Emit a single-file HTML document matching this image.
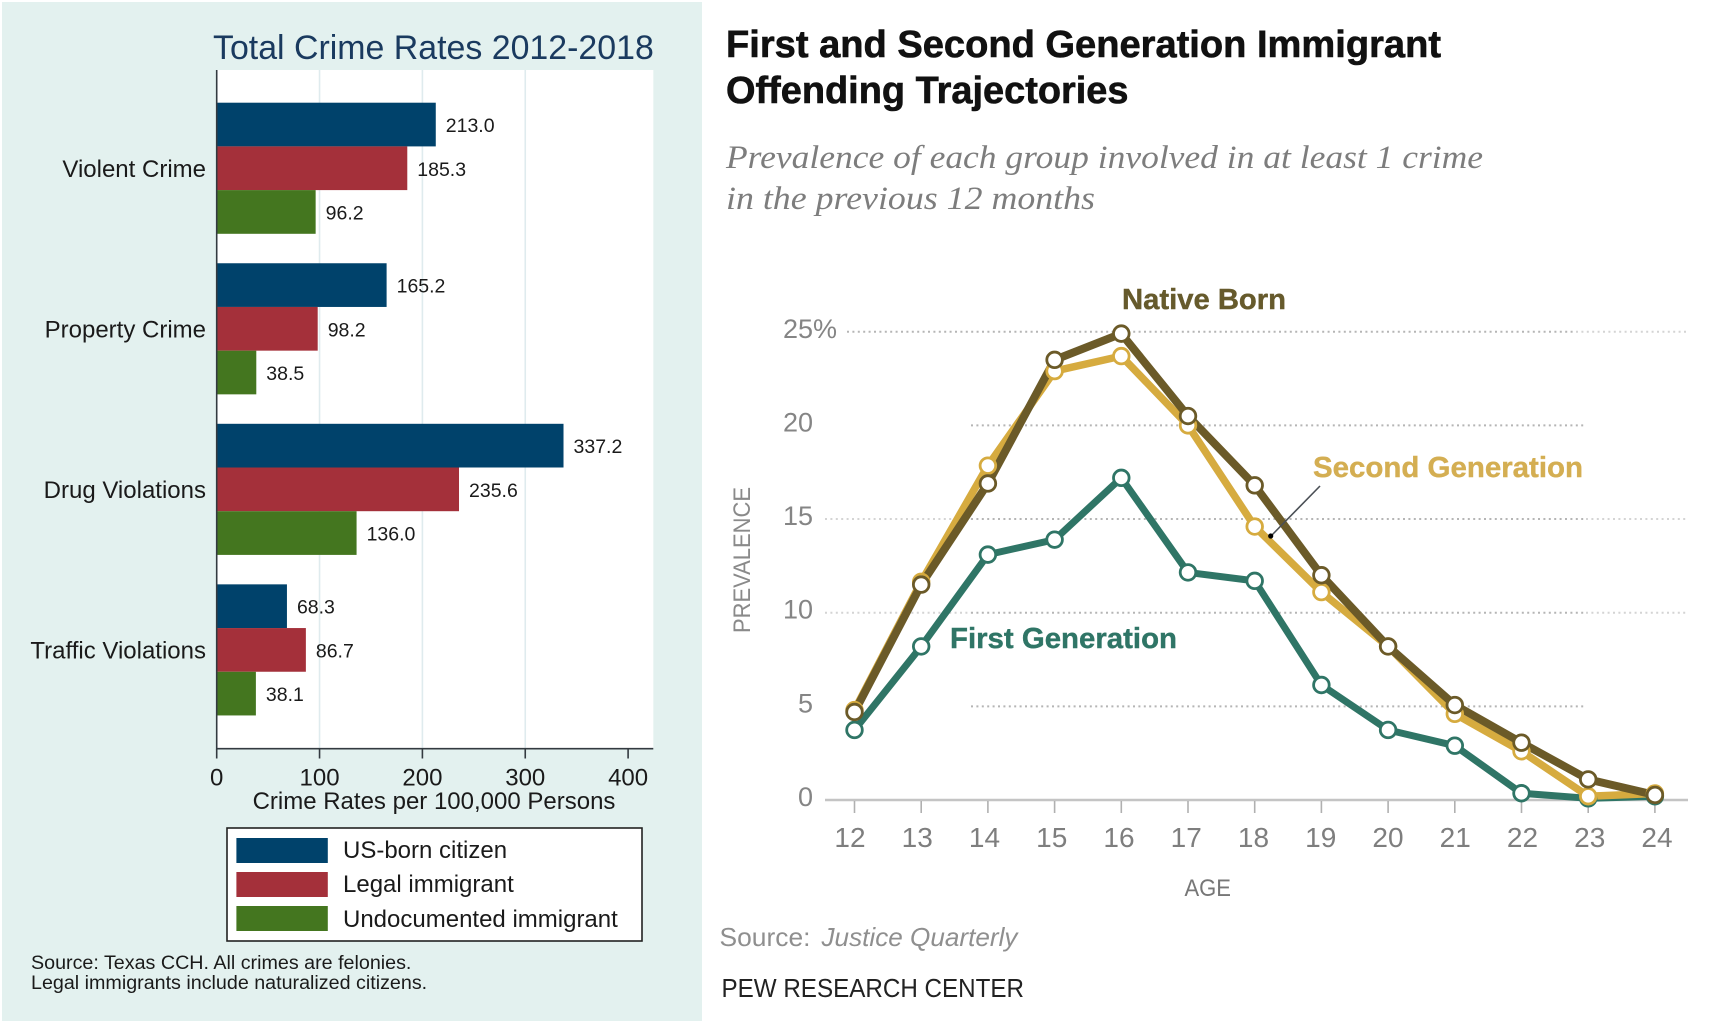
<!DOCTYPE html>
<html lang="en">
<head>
<meta charset="utf-8">
<title>Crime Rates and Offending Trajectories</title>
<style>
html,body{margin:0;padding:0;background:#fff;}
svg{display:block;font-family:"Liberation Sans",sans-serif;}
</style>
</head>
<body>
<svg id="root" xmlns="http://www.w3.org/2000/svg" width="1709" height="1024" viewBox="0 0 1709 1024">
  <rect x="0" y="0" width="1709" height="1024" fill="#ffffff"/>
  <rect x="2" y="2" width="700" height="1019" fill="#e3f1ef"/>
  <rect x="216.7" y="70" width="436.6" height="679" fill="#ffffff"/>
  <g id="leftGrid"></g>
  <g id="leftBars"></g>
  <g id="leftAxes"></g>

  <text x="213" y="59" font-size="33.9" fill="#1a3a5f">Total Crime Rates 2012-2018</text>
  <text x="434" y="809" font-size="24" fill="#1a1a1a" text-anchor="middle">Crime Rates per 100,000 Persons</text>

  <g>
    <rect x="227" y="828" width="415" height="113" fill="#ffffff" stroke="#222222" stroke-width="1.6"/>
    <rect x="236.4" y="838" width="91.4" height="25" fill="#00426b"/>
    <rect x="236.4" y="872" width="91.4" height="25" fill="#a4303a"/>
    <rect x="236.4" y="906" width="91.4" height="25" fill="#44761f"/>
    <text x="343" y="858" font-size="24" fill="#1a1a1a">US-born citizen</text>
    <text x="343" y="892" font-size="24" fill="#1a1a1a">Legal immigrant</text>
    <text x="343" y="927" font-size="24" fill="#1a1a1a">Undocumented immigrant</text>
  </g>
  <text x="31" y="969" font-size="19.7" fill="#1a1a1a">Source: Texas CCH. All crimes are felonies.</text>
  <text x="31" y="989" font-size="19.7" fill="#1a1a1a">Legal immigrants include naturalized citizens.</text>

  <text x="726" y="57" font-size="38" font-weight="bold" fill="#111111" stroke="#111111" stroke-width="0.6" textLength="715" lengthAdjust="spacingAndGlyphs">First and Second Generation Immigrant</text>
  <text x="726" y="103" font-size="38" font-weight="bold" fill="#111111" stroke="#111111" stroke-width="0.6" textLength="402.5" lengthAdjust="spacingAndGlyphs">Offending Trajectories</text>
  <text x="726" y="168" font-family="Liberation Serif, serif" font-style="italic" font-size="33" fill="#7d7d7d" textLength="757" lengthAdjust="spacingAndGlyphs">Prevalence of each group involved in at least 1 crime</text>
  <text x="726" y="209" font-family="Liberation Serif, serif" font-style="italic" font-size="33" fill="#7d7d7d" textLength="369" lengthAdjust="spacingAndGlyphs">in the previous 12 months</text>

  <g id="rightGrid"></g>
  <g id="rightAxes"></g>
  <g id="rightLines"></g>

  <text transform="translate(750,633) rotate(-90)" font-size="24" fill="#8a8a8a" textLength="146" lengthAdjust="spacingAndGlyphs">PREVALENCE</text>
  <text x="1184.5" y="896" font-size="24" fill="#777777" textLength="46.5" lengthAdjust="spacingAndGlyphs">AGE</text>

  <text x="1122" y="309" font-size="29" font-weight="bold" fill="#665a2c" stroke="#665a2c" stroke-width="0.4" textLength="164" lengthAdjust="spacingAndGlyphs">Native Born</text>
  <text x="1313" y="477" font-size="29" font-weight="bold" fill="#d4ae52" stroke="#d4ae52" stroke-width="0.4" textLength="270" lengthAdjust="spacingAndGlyphs">Second Generation</text>
  <text x="950" y="648" font-size="29" font-weight="bold" fill="#2f7566" stroke="#2f7566" stroke-width="0.4" textLength="227" lengthAdjust="spacingAndGlyphs">First Generation</text>
  <line x1="1320" y1="486" x2="1271" y2="536" stroke="#4a4f55" stroke-width="1.6"/>
  <circle cx="1270.7" cy="536" r="2.6" fill="#000000"/>

  <text x="719.5" y="946" font-size="26" fill="#8f8f8f" textLength="91" lengthAdjust="spacingAndGlyphs">Source:</text>
  <text x="821.5" y="946" font-size="26" font-style="italic" fill="#8f8f8f" textLength="196" lengthAdjust="spacingAndGlyphs">Justice Quarterly</text>
  <text x="721.5" y="997" font-size="26" fill="#222222" textLength="302.5" lengthAdjust="spacingAndGlyphs">PEW RESEARCH CENTER</text>
</svg>
<script>
var categories = ['Violent Crime', 'Property Crime', 'Drug Violations', 'Traffic Violations'];
var usBorn = [213.0, 165.2, 337.2, 68.3];
var legalImmigrant = [185.3, 98.2, 235.6, 86.7];
var undocumented = [96.2, 38.5, 136.0, 38.1];
var rateTicks = [0, 100, 200, 300, 400];

var ages = [12, 13, 14, 15, 16, 17, 18, 19, 20, 21, 22, 23, 24];
var nativeBorn = [4.7, 11.5, 16.9, 23.5, 24.9, 20.5, 16.8, 12.0, 8.2, 5.07, 3.06, 1.1, 0.27];
var secondGeneration = [4.8, 11.65, 17.85, 22.9, 23.7, 20.0, 14.6, 11.1, 8.2, 4.6, 2.6, 0.2, 0.35];
var firstGeneration = [3.74, 8.2, 13.1, 13.9, 17.2, 12.15, 11.7, 6.14, 3.74, 2.9, 0.36, 0.09, 0.2];
var prevalenceTicks = [0, 5, 10, 15, 20, 25];
var prevalenceLabels = ['0', '5', '10', '15', '20', '25%'];

var NS = 'http://www.w3.org/2000/svg';
function mk(tag, parent, attrs, text) {
  var el = document.createElementNS(NS, tag);
  for (var k in attrs) el.setAttribute(k, attrs[k]);
  if (text !== undefined) el.textContent = text;
  parent.appendChild(el);
  return el;
}

/* ---------- left chart ---------- */
function rateX(v) { return 216.7 + v * 1.0285; }
function groupTop(i) { return 102.7 + i * 160.55; }
var BAR_H = 43.7;
var leftGrid = document.getElementById('leftGrid');
var leftBars = document.getElementById('leftBars');
var leftAxes = document.getElementById('leftAxes');

rateTicks.forEach(function (t) {
  if (t === 0 || t === 400) return;
  var g = mk('line', leftGrid, { x1: rateX(t), x2: rateX(t), y1: 70, y2: 749, stroke: '#dfebee', 'stroke-width': 1.6 });
  
  
});

var groups = [
  { values: usBorn, color: '#00426b', key: 'us-born' },
  { values: legalImmigrant, color: '#a4303a', key: 'legal' },
  { values: undocumented, color: '#44761f', key: 'undocumented' }
];
categories.forEach(function (cat, i) {
  var label = mk('text', leftAxes, { x: 206, y: groupTop(i) + BAR_H * 1.5 + 8.5, 'font-size': 24, fill: '#1a1a1a', 'text-anchor': 'end' }, cat);
  
  
  groups.forEach(function (s, j) {
    var v = s.values[i];
    var top = groupTop(i) + j * BAR_H;
    var bar = mk('rect', leftBars, { x: rateX(0), y: top, width: rateX(v) - rateX(0), height: BAR_H, fill: s.color });
    
    
    var val = mk('text', leftBars, { x: rateX(v) + 10, y: top + BAR_H / 2 + 7.5, 'font-size': 19.5, fill: '#1a1a1a' }, v.toFixed(1));
    
    
  });
});

var yAxisLeft = mk('line', leftAxes, { x1: 216.7, x2: 216.7, y1: 70, y2: 749.5, stroke: '#333a40', 'stroke-width': 1.6 });


var xAxisLeft = mk('line', leftAxes, { x1: 216, x2: 653.3, y1: 748.7, y2: 748.7, stroke: '#333a40', 'stroke-width': 1.6 });


rateTicks.forEach(function (t) {
  var tick = mk('line', leftAxes, { x1: rateX(t), x2: rateX(t), y1: 749, y2: 758.5, stroke: '#333a40', 'stroke-width': 1.6 });
  
  
  var lab = mk('text', leftAxes, { x: rateX(t), y: 785.5, 'font-size': 24, fill: '#1a1a1a', 'text-anchor': 'middle' }, String(t));
  
  
});

/* ---------- right chart ---------- */
function ageX(a) { return 854.5 + (a - 12) * 66.7; }
function prevY(v) { return 800 - v * 18.73; }
function ageLabelX(a) { return 850 + (a - 12) * 67.25; }
var rightGrid = document.getElementById('rightGrid');
var rightAxes = document.getElementById('rightAxes');
var rightLines = document.getElementById('rightLines');
var DOTS = { 'stroke-dasharray': '2 3.4', 'stroke-width': 2 };

prevalenceTicks.forEach(function (t, i) {
  var y = prevY(t);
  var lab = mk('text', rightAxes, { x: t === 25 ? 783 : 813, y: y + 6, 'font-size': 27, fill: '#858585', 'text-anchor': t === 25 ? 'start' : 'end' }, prevalenceLabels[i]);
  
  
  if (t === 0) return;
  var main = mk('line', rightGrid, { x1: t === 25 ? 847 : 971, x2: t === 25 ? 1576 : 1586, y1: y, y2: y, stroke: '#b5b5b5', 'stroke-dasharray': DOTS['stroke-dasharray'], 'stroke-width': DOTS['stroke-width'] });
  
  
  if (t === 20 || t === 5) return;
  var right = mk('line', rightGrid, { x1: t === 25 ? 1576 : 1586, x2: 1688, y1: y, y2: y, stroke: '#d4d4d4', 'stroke-dasharray': DOTS['stroke-dasharray'], 'stroke-width': DOTS['stroke-width'] });
  
  
  if (t === 25) return;
  var left = mk('line', rightGrid, { x1: 825, x2: 971, y1: y, y2: y, stroke: '#d4d4d4', 'stroke-dasharray': DOTS['stroke-dasharray'], 'stroke-width': DOTS['stroke-width'] });
  
  
});

var xAxisRight = mk('line', rightAxes, { x1: 825, x2: 1688, y1: prevY(0), y2: prevY(0), stroke: '#c4c4c4', 'stroke-width': 2.6 });


ages.forEach(function (a) {
  var tick = mk('line', rightAxes, { x1: ageX(a), x2: ageX(a), y1: 801, y2: 813, stroke: '#b0b0b0', 'stroke-width': 1.6 });
  
  
  var lab = mk('text', rightAxes, { x: ageLabelX(a), y: 847, 'font-size': 28, fill: '#7e7e7e', 'text-anchor': 'middle' }, String(a));
  
  
});

var series = [
  { values: firstGeneration, color: '#2f7566', key: 'first-generation', w: 7 },
  { values: secondGeneration, color: '#d6ab3f', key: 'second-generation', w: 7.5 },
  { values: nativeBorn, color: '#6b5a28', key: 'native-born', w: 8 }
];
series.forEach(function (s) {
  var pts = s.values.map(function (v, i) { return ageX(ages[i]) + ',' + prevY(v); }).join(' ');
  var line = mk('polyline', rightLines, { points: pts, fill: 'none', stroke: s.color, 'stroke-width': s.w, 'stroke-linejoin': 'round' });
  
  
});
series.forEach(function (s) {
  s.values.forEach(function (v, i) {
    var dot = mk('circle', rightLines, { cx: ageX(ages[i]), cy: prevY(v), r: 7.8, fill: '#ffffff', stroke: s.color, 'stroke-width': 2.8 });
    
    
  });
});
</script>
</body>
</html>
